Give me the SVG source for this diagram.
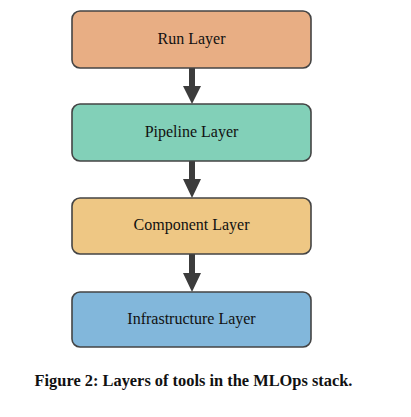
<svg xmlns="http://www.w3.org/2000/svg" width="411" height="417" viewBox="0 0 411 417">
<style>
.box{stroke:#444;stroke-width:1.6}
.lbl{font-family:"Liberation Serif","DejaVu Serif",serif;font-size:16px;fill:#111;text-anchor:middle}
.cap{font-family:"Liberation Serif","DejaVu Serif",serif;font-size:16.4px;font-weight:bold;fill:#111;text-anchor:middle}
.shaft{fill:#3c3c3c}
</style>
<rect width="411" height="417" fill="#fff"/>
<g id="connectors">
<path class="shaft" d="M189,68 H195 V86 H201 L192,104 L183,86 H189 Z"/>
<path class="shaft" d="M189,161 H195 V179 H201 L192,198 L183,179 H189 Z"/>
<path class="shaft" d="M189,254 H195 V273 H201 L192,292 L183,273 H189 Z"/>
</g>
<g id="run">
<rect class="box" x="72" y="11" width="239" height="57" rx="8" fill="#E8AE84"/>
<text class="lbl" x="191.5" y="44">Run Layer</text>
</g>
<g id="pipeline">
<rect class="box" x="72" y="104" width="239" height="57" rx="8" fill="#82D0B8"/>
<text class="lbl" x="191.5" y="137">Pipeline Layer</text>
</g>
<g id="component">
<rect class="box" x="72" y="198" width="239" height="56" rx="8" fill="#EEC784"/>
<text class="lbl" x="191.5" y="230">Component Layer</text>
</g>
<g id="infrastructure">
<rect class="box" x="72" y="292" width="239" height="55" rx="8" fill="#82B7DB"/>
<text class="lbl" x="191.5" y="324">Infrastructure Layer</text>
</g>
<text class="cap" x="193.5" y="386">Figure 2: Layers of tools in the MLOps stack.</text>
</svg>
